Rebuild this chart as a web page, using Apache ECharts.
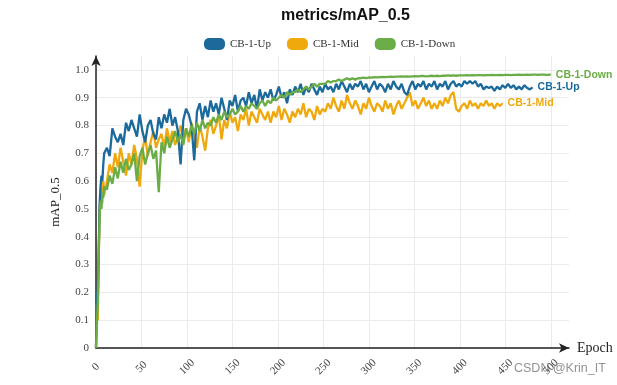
<!DOCTYPE html>
<html>
<head>
<meta charset="utf-8">
<script src="https://cdn.jsdelivr.net/npm/echarts@6/dist/echarts.min.js"></script>
<style>html,body{margin:0;padding:0;background:#fff}#c{width:617px;height:385px}</style>
</head>
<body>
<div id="c"></div>
<script>
const epochs = [0,1,2,3,4,5,6,7,8,9,
12,15,18,21,24,27,30,33,36,39,
42,45,48,51,54,57,60,63,66,69,
72,75,78,81,84,87,90,93,96,99,
102,105,108,111,114,117,120,123,126,129,
132,135,138,141,144,147,150,153,156,159,
162,165,168,171,174,177,180,183,186,189,
192,195,198,201,204,207,210,213,216,219,
222,225,228,231,234,237,240,243,246,249,
252,255,258,261,264,267,270,273,276,279,
282,285,288,291,294,297,300,303,306,309,
312,315,318,321,324,327,330,333,336,339,
342,345,348,351,354,357,360,363,366,369,
372,375,378,381,384,387,390,393,396,399,
402,405,408,411,414,417,420,423,426,429,
432,435,438,441,444,447,450,453,456,459,
462,465,468,471,474,477,480,483,486,489,
492,495,500];

const seriesNames = ['CB-1-Up', 'CB-1-Mid', 'CB-1-Down'];

const upValues = [0.0,0.2,0.19,0.35,0.52,0.58,0.62,0.6,0.66,0.7,
0.72,0.69,0.79,0.76,0.74,0.77,0.73,0.81,0.78,0.82,
0.79,0.76,0.84,0.78,0.74,0.8,0.82,0.77,0.75,0.83,
0.79,0.84,0.81,0.86,0.8,0.83,0.78,0.66,0.82,0.86,
0.84,0.8,0.675,0.85,0.88,0.82,0.87,0.83,0.89,0.85,
0.88,0.84,0.9,0.86,0.82,0.89,0.87,0.91,0.85,0.89,
0.9,0.87,0.92,0.88,0.91,0.86,0.93,0.89,0.92,0.9,
0.93,0.89,0.91,0.94,0.9,0.92,0.88,0.93,0.91,0.94,
0.92,0.95,0.91,0.94,0.92,0.95,0.93,0.91,0.94,0.92,
0.95,0.93,0.94,0.92,0.95,0.93,0.96,0.94,0.92,0.95,
0.93,0.95,0.94,0.96,0.93,0.95,0.92,0.94,0.96,0.93,
0.95,0.94,0.92,0.95,0.93,0.96,0.94,0.93,0.95,0.92,
0.91,0.94,0.96,0.93,0.95,0.94,0.96,0.93,0.95,0.94,
0.96,0.93,0.95,0.94,0.96,0.93,0.95,0.96,0.94,0.95,
0.94,0.96,0.95,0.96,0.95,0.96,0.94,0.95,0.93,0.94,
0.935,0.94,0.925,0.94,0.93,0.945,0.935,0.95,0.935,0.945,
0.93,0.94,0.93,0.945,0.935,0.93,0.937];

const midValues = [0.0,0.16,0.1,0.32,0.5,0.54,0.58,0.52,0.6,0.55,
0.6,0.66,0.63,0.7,0.65,0.72,0.67,0.62,0.7,0.66,
0.73,0.68,0.58,0.71,0.76,0.69,0.74,0.78,0.72,0.75,
0.77,0.72,0.79,0.74,0.78,0.73,0.76,0.8,0.75,0.79,
0.74,0.81,0.77,0.72,0.8,0.76,0.71,0.79,0.82,0.77,
0.8,0.84,0.75,0.82,0.79,0.85,0.81,0.83,0.78,0.84,
0.82,0.86,0.8,0.85,0.83,0.81,0.86,0.84,0.82,0.85,
0.81,0.85,0.83,0.87,0.82,0.86,0.84,0.81,0.85,0.83,
0.86,0.84,0.88,0.83,0.86,0.85,0.82,0.87,0.84,0.86,
0.85,0.88,0.86,0.9,0.87,0.85,0.89,0.86,0.91,0.88,
0.86,0.89,0.87,0.84,0.88,0.86,0.9,0.87,0.85,0.88,
0.87,0.85,0.89,0.86,0.88,0.84,0.87,0.89,0.86,0.88,
0.9,0.92,0.87,0.89,0.86,0.88,0.9,0.87,0.89,0.86,
0.88,0.86,0.89,0.87,0.9,0.88,0.91,0.92,0.86,0.85,
0.87,0.88,0.86,0.89,0.87,0.88,0.86,0.88,0.87,0.89,
0.87,0.88,0.86,0.88,0.87,0.88];

const downValues = [0.0,0.09,0.17,0.33,0.48,0.53,0.5,0.56,0.54,0.58,
0.57,0.62,0.59,0.65,0.61,0.67,0.63,0.68,0.64,0.66,
0.7,0.6,0.69,0.72,0.66,0.7,0.73,0.68,0.71,0.56,
0.74,0.7,0.76,0.72,0.75,0.78,0.74,0.77,0.73,0.79,
0.76,0.8,0.77,0.81,0.78,0.82,0.79,0.81,0.8,0.83,
0.81,0.84,0.82,0.85,0.83,0.84,0.86,0.84,0.85,0.87,
0.85,0.87,0.86,0.88,0.87,0.86,0.88,0.89,0.87,0.89,
0.88,0.9,0.89,0.9,0.91,0.9,0.92,0.91,0.92,0.92,
0.93,0.92,0.93,0.94,0.93,0.94,0.95,0.94,0.95,0.95,
0.95,0.96,0.955,0.96,0.96,0.965,0.96,0.965,0.97,0.965,
0.97,0.965,0.97,0.97,0.972,0.97,0.973,0.972,0.974,0.973,
0.974,0.975,0.974,0.975,0.976,0.975,0.976,0.976,0.977,0.976,
0.977,0.976,0.977,0.978,0.977,0.978,0.978,0.977,0.978,0.979,
0.978,0.979,0.978,0.979,0.979,0.98,0.979,0.98,0.979,0.98,
0.98,0.98,0.981,0.98,0.981,0.98,0.981,0.981,0.98,0.981,
0.981,0.982,0.981,0.981,0.982,0.981,0.982,0.982,0.981,0.982,
0.982,0.983,0.982,0.982,0.983,0.982,0.983,0.983,0.982,0.983,
0.983,0.982,0.983];

const colors = ['#1c6a9b', '#efa90c', '#6aad46'];
const allValues = [upValues, midValues, downValues];

function pairs(vals) { return vals.map((v, i) => [epochs[i], v]); }

const chart = echarts.init(document.getElementById('c'));
const serif = '"Liberation Serif", "DejaVu Serif", serif';
const sans = '"Liberation Sans", Arial, sans-serif';
const pill = 'path://M5,0 H16 A5,5 0 0 1 21,5 V7 A5,5 0 0 1 16,12 H5 A5,5 0 0 1 0,7 V5 A5,5 0 0 1 5,0 Z';

chart.setOption({
  animation: false,
  color: colors,
  title: {
    text: 'metrics/mAP_0.5',
    left: 276, top: 3,
    textStyle: { fontFamily: sans, fontSize: 16, fontWeight: 'bold', color: '#111' }
  },
  legend: {
    data: seriesNames,
    left: 199, top: 33,
    itemWidth: 21, itemHeight: 12, itemGap: 16,
    icon: pill,
    textStyle: { fontFamily: serif, fontSize: 11, color: '#333' }
  },
  grid: { left: 96, right: 48, top: 56, bottom: 37 },
  xAxis: {
    type: 'value', min: 0, max: 520, interval: 50,
    name: 'Epoch', nameLocation: 'end', nameGap: 8,
    nameTextStyle: { fontFamily: serif, fontSize: 14, color: '#222' },
    axisLine: { show: true, symbol: ['none', 'arrow'], symbolSize: [7, 10], lineStyle: { color: '#222', width: 1.5 } },
    axisTick: { show: false },
    axisLabel: { showMaxLabel: false, rotate: 45, margin: 19, align: 'center', verticalAlign: 'middle',
      fontFamily: serif, fontSize: 11, color: '#444' },
    splitLine: { show: true, showMaxLine: false, lineStyle: { color: '#ebebeb' } }
  },
  yAxis: {
    type: 'value', min: 0, max: 1.05, interval: 0.1,
    name: 'mAP_0.5', nameLocation: 'middle', nameGap: 34, nameRotate: 90,
    nameTextStyle: { fontFamily: serif, fontSize: 13, color: '#222' },
    axisLine: { show: true, symbol: ['none', 'arrow'], symbolSize: [7, 10], lineStyle: { color: '#222', width: 1.5 } },
    axisTick: { show: false },
    axisLabel: { showMaxLabel: false, margin: 7, fontFamily: serif, fontSize: 11, color: '#444',
      formatter: v => v === 0 ? '0' : v.toFixed(1) },
    splitLine: { show: true, showMaxLine: false, lineStyle: { color: '#ebebeb' } }
  },
  series: allValues.map((vals, k) => ({
    name: seriesNames[k],
    type: 'line',
    data: pairs(vals),
    showSymbol: false,
    symbol: 'none',
    lineStyle: { width: 2.3, color: colors[k] },
    itemStyle: { color: colors[k] },
    endLabel: {
      show: true, formatter: '{a}', distance: 5,
      color: colors[k], fontFamily: sans, fontSize: 10.5, fontWeight: 'bold'
    },
    z: k === 2 ? 3 : (k === 0 ? 2 : 1)
  })),
  graphic: [{
    type: 'text', left: 514, top: 362,
    style: { text: 'CSDN @Krin_IT', fontFamily: sans, fontSize: 12.5, fill: 'rgba(120,120,120,0.8)' }
  }]
});
</script>
</body>
</html>
